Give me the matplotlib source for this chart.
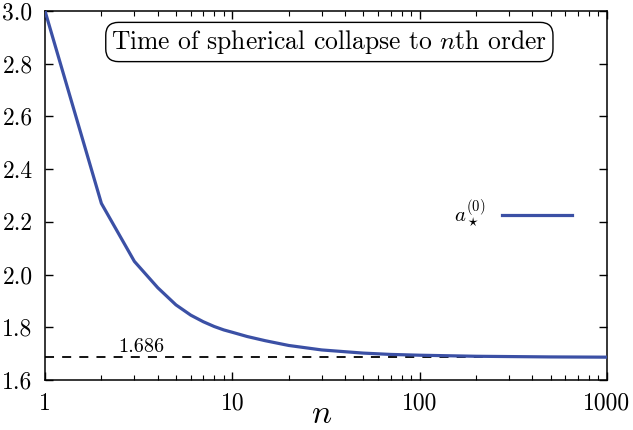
import matplotlib
matplotlib.use('Agg')
import matplotlib.pyplot as plt
import numpy as np

# collapse time estimate a_*^(0) at order n
n_vals = [1, 2, 3, 4, 5, 6, 7, 8, 9, 10, 12, 15, 20, 30, 50, 70, 100, 200, 500, 1000]
a_vals = [3.000, 2.270, 2.050, 1.950, 1.885, 1.846, 1.821, 1.803, 1.790, 1.781,
          1.765, 1.749, 1.731, 1.714, 1.702, 1.697, 1.694, 1.690, 1.6875, 1.6866]
delta_c = 1.686

xticks = [1, 10, 100, 1000]
xticklabels = ['1', '10', '100', '1000']
yticks = [1.6, 1.8, 2.0, 2.2, 2.4, 2.6, 2.8, 3.0]

plt.rcParams.update({'font.family': 'cmr10', 'mathtext.fontset': 'cm',
                     'axes.formatter.use_mathtext': True, 'font.size': 17})

fig = plt.figure(figsize=(6.33, 4.30), dpi=100)
ax = fig.add_axes([0.0711, 0.1163, 0.8878, 0.8581])

ax.plot(n_vals, a_vals, color='#3b50a5', lw=2.3, label=r'$a_\star^{(0)}$', zorder=3)
ax.axhline(delta_c, color='black', lw=1.3, ls=(0, (5, 4.5)), zorder=2)
ax.text(2.45, delta_c + 0.006, '1.686', fontsize=14.5, va='bottom', ha='left')

ax.set_xscale('log')
ax.set_xlim(1, 1000)
ax.set_ylim(1.6, 3.0)
ax.set_xticks(xticks)
ax.set_xticklabels(xticklabels)
ax.set_yticks(yticks)
ax.set_yticklabels(['%.1f' % v for v in yticks])
ax.tick_params(which='major', direction='in', length=6, width=1, top=True, right=True, labelsize=17)
ax.tick_params(axis='x', which='major', pad=9)
ax.tick_params(axis='y', which='major', pad=9)
ax.tick_params(which='minor', direction='in', length=3.5, width=0.8, top=True, right=False)
ax.tick_params(axis='y', which='minor', left=False, right=False)
for s in ax.spines.values():
    s.set_linewidth(1.1)

ax.set_xlabel(r'$n$', fontsize=24)
ax.xaxis.label.set_va('baseline')
ax.xaxis.set_label_coords(0.493, -0.117)

ax.text(0.506, 0.916, r'Time of spherical collapse to $n$th order', transform=ax.transAxes,
        ha='center', va='center', fontsize=18.4,
        bbox=dict(boxstyle='round,pad=0.22,rounding_size=0.5', fc='white', ec='black', lw=1))

ax.legend(loc='center right', bbox_to_anchor=(0.972, 0.45), frameon=False, markerfirst=False,
          handlelength=3.4, fontsize=15)

fig.savefig('out.png', dpi=100)
